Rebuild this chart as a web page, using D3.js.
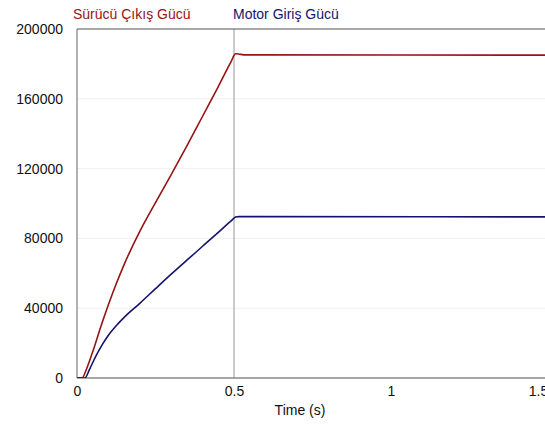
<!DOCTYPE html>
<html><head><meta charset="utf-8">
<script src="https://cdn.jsdelivr.net/npm/d3@7"></script>
<style>body{margin:0;background:#fff}svg{display:block}text{font-family:"Liberation Sans",Arial,sans-serif}</style>
</head><body><svg id="c" width="545" height="426"></svg>
<script>
const seriesNames = ["Sürücü Çıkış Gücü", "Motor Giriş Gücü"];
const seriesColors = ["#961414", "#14146e"];
const redTime  = [0, 0.016, 0.03, 0.05, 0.075, 0.1, 0.125, 0.15, 0.2, 0.25, 0.3, 0.35, 0.4, 0.45, 0.49, 0.505, 0.515, 0.53, 1.6];
const redPower = [0, 0, 5000, 15000, 29000, 42000, 54000, 65000, 84000, 100500, 116500, 133000, 150000, 167000, 181000, 185800, 185700, 185200, 185000];
const blueTime  = [0, 0.025, 0.04, 0.06, 0.08, 0.1, 0.13, 0.16, 0.2, 0.25, 0.3, 0.35, 0.4, 0.45, 0.49, 0.505, 0.515, 1.6];
const bluePower = [0, 0, 5000, 12500, 19000, 24500, 31000, 36500, 42800, 51200, 59500, 67500, 75500, 83500, 89900, 92200, 92500, 92300];
const xTicks = [0, 0.5, 1, 1.5];
const xTickLabels = ["0", "0.5", "1", "1.5"];
const yTicks = [0, 40000, 80000, 120000, 160000, 200000];
const xLabel = "Time (s)";

const svg = d3.select("#c");
const L = 77, T = 29, B = 378, R = 548, W = 545;
const x = d3.scaleLinear().domain([0, 1.5]).range([L, R]);
const y = d3.scaleLinear().domain([0, 200000]).range([B, T]);

// horizontal grid (very faint)
svg.append("g").selectAll("line").data(yTicks.slice(1, -1)).join("line")
  .attr("x1", L).attr("x2", W).attr("y1", d => y(d)).attr("y2", d => y(d))
  .attr("stroke", "#e4e4e4").attr("stroke-width", 0.6);
// vertical marker at 0.5
svg.append("line").attr("x1", x(0.5)).attr("x2", x(0.5)).attr("y1", T).attr("y2", B)
  .attr("stroke", "#a8a8a8").attr("stroke-width", 1.2);

// frame
svg.append("line").attr("x1", L).attr("x2", W).attr("y1", T).attr("y2", T).attr("stroke", "#555").attr("stroke-width", 1);
svg.append("line").attr("x1", L).attr("x2", L).attr("y1", T).attr("y2", B).attr("stroke", "#666").attr("stroke-width", 1);
svg.append("line").attr("x1", L).attr("x2", W).attr("y1", B).attr("y2", B).attr("stroke", "#888").attr("stroke-width", 1.6);

// axes
const yAxis = d3.axisLeft(y).tickValues(yTicks).tickFormat(d3.format("d")).tickSize(0).tickPadding(14);
const gy = svg.append("g").attr("transform", `translate(${L},0)`).call(yAxis);
gy.select(".domain").remove();
gy.selectAll("text").attr("font-size", 14).attr("fill", "#111");
const xAxis = d3.axisBottom(x).tickValues(xTicks).tickFormat((d, i) => xTickLabels[i]).tickSize(0).tickPadding(8);
const gx = svg.append("g").attr("transform", `translate(0,${B})`).call(xAxis);
gx.select(".domain").remove();
gx.selectAll("text").attr("font-size", 14).attr("fill", "#111")
  .attr("dx", (d, i) => i === xTicks.length - 1 ? -10 : 0);
svg.append("text").attr("x", 300).attr("y", 415).attr("text-anchor", "middle")
  .attr("font-size", 14).attr("fill", "#111").text(xLabel);

// lines
svg.append("clipPath").attr("id", "pc").append("rect")
  .attr("x", L).attr("y", T - 2).attr("width", W - L).attr("height", B - T + 2);
const line = d3.line().x(d => x(d[0])).y(d => y(d[1])).curve(d3.curveMonotoneX);
const series = [d3.zip(redTime, redPower), d3.zip(blueTime, bluePower)];
series.forEach((s, i) => {
  svg.append("path").datum(s).attr("d", line).attr("fill", "none")
    .attr("stroke", seriesColors[i]).attr("stroke-width", 1.6).attr("clip-path", "url(#pc)");
});

// legend
const legX = [73, 233];
seriesNames.forEach((n, i) => {
  svg.append("text").attr("x", legX[i]).attr("y", 19).attr("font-size", 14)
    .attr("fill", seriesColors[i]).text(n);
});
</script></body></html>
